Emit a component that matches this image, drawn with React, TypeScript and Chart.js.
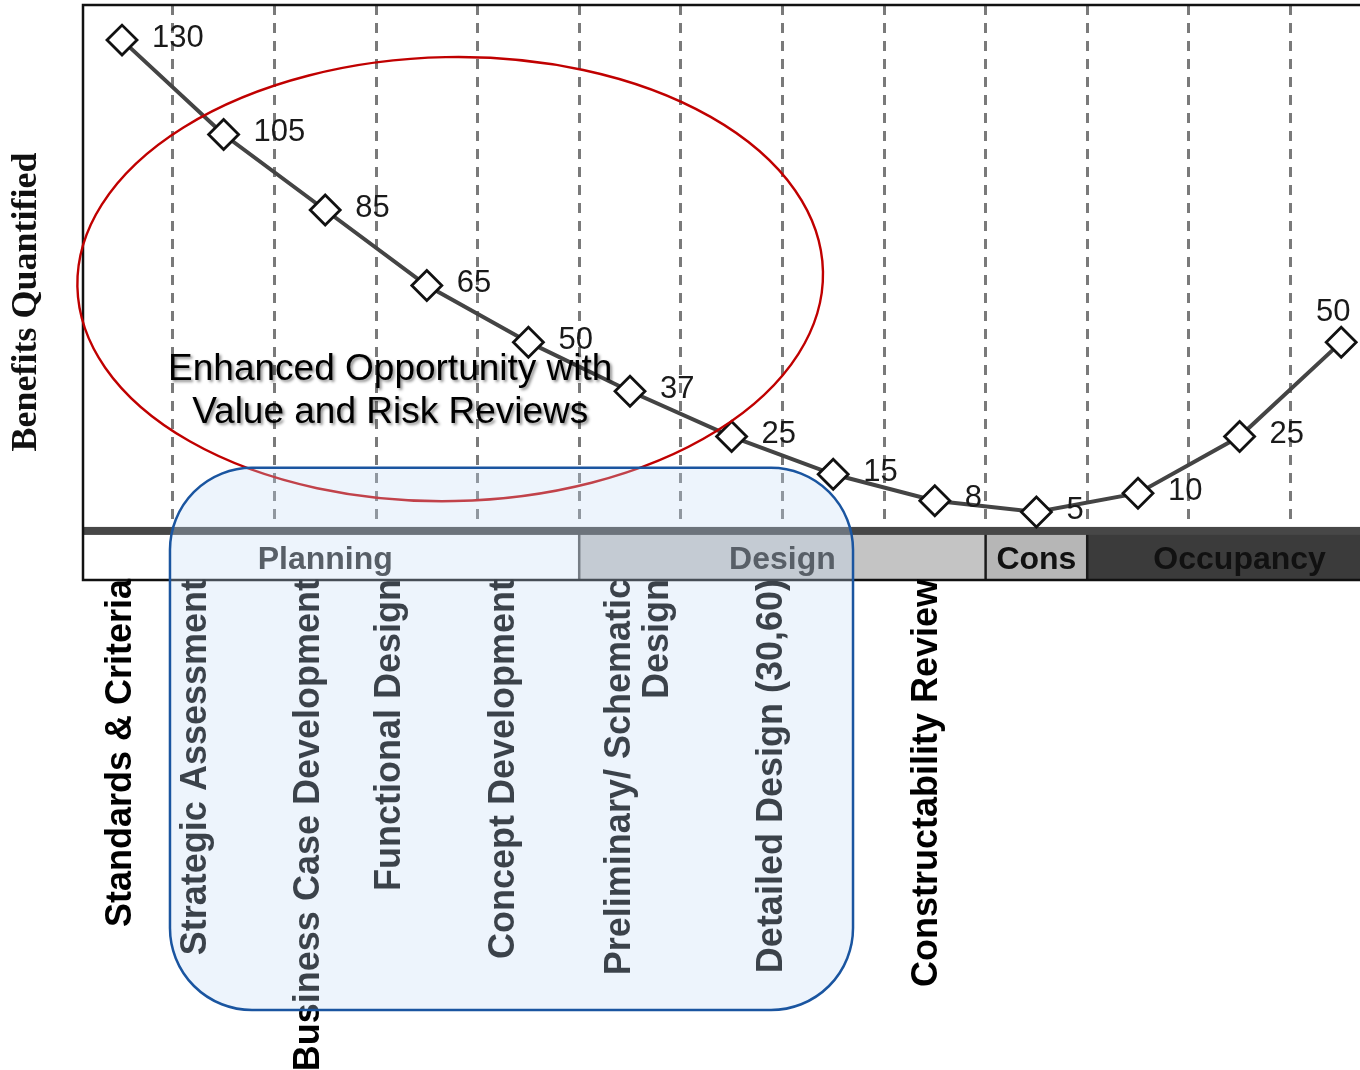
import React, { useEffect, useRef } from 'react';
import { Chart, registerables } from 'chart.js';

Chart.register(...registerables);

// ---- data ----
const stepIndex = [0, 1, 2, 3, 4, 5, 6, 7, 8, 9, 10, 11, 12];
const benefits = [130, 105, 85, 65, 50, 37, 25, 15, 8, 5, 10, 25, 50];
const stageLabels: (string | string[])[] = [
  'Standards & Criteria',
  'Strategic Assessment',
  'Business Case Development',
  'Functional Design',
  'Concept Development',
  ['Preliminary/ Schematic', 'Design'],
  'Detailed Design (30,60)',
  'Constructability Review',
];
const phaseNames = ['Planning', 'Design', 'Cons', 'Occupancy'];
const phaseFrom = [-0.5, 4.5, 8.5, 9.5];
const phaseTo = [4.5, 8.5, 9.5, 12.5];
const gridBetween = [0.5, 1.5, 2.5, 3.5, 4.5, 5.5, 6.5, 7.5, 8.5, 9.5, 10.5, 11.5];
const yTitle = 'Benefits Quantified';
const calloutText = ['Enhanced Opportunity with', 'Value and Risk Reviews'];

// ---- styling / placement (not data) ----
const STAGE_LABEL_AT = [-0.01, 0.73, 1.84, 2.64, 3.76, 5.09, 6.4, 7.92];
const PHASE_FILL = ['#ffffff', '#c4c4c4', '#b6b6b6', '#3b3b3b'];
const PHASE_TEXT = ['#2a2a2a', '#2a2a2a', '#111111', '#111111'];
const SANS = '"Liberation Sans", Arial, sans-serif';

const decor = {
  id: 'decor',
  beforeDatasetsDraw(chart: any) {
    const { ctx, chartArea: ca, scales } = chart;
    const x = scales.x;
    const y = scales.y;
    const y0 = y.getPixelForValue(0);
    const yb = ca.bottom;
    ctx.save();
    phaseNames.forEach((_, i) => {
      const x1 = Math.max(ca.left, x.getPixelForValue(phaseFrom[i]));
      const x2 = Math.min(ca.right, x.getPixelForValue(phaseTo[i]));
      ctx.fillStyle = PHASE_FILL[i];
      ctx.fillRect(x1, y0, x2 - x1, yb - y0);
    });
    phaseNames.forEach((_, i) => {
      if (i === 0) return;
      const xp = x.getPixelForValue(phaseFrom[i]);
      ctx.strokeStyle = i === 1 ? '#555' : '#1a1a1a';
      ctx.lineWidth = 2.5;
      ctx.beginPath();
      ctx.moveTo(xp, y0);
      ctx.lineTo(xp, yb);
      ctx.stroke();
    });
    ctx.fillStyle = '#474747';
    ctx.fillRect(ca.left, y0 - 4, ca.right - ca.left, 8);
    ctx.font = `bold 32px ${SANS}`;
    ctx.textAlign = 'center';
    ctx.textBaseline = 'middle';
    phaseNames.forEach((n, i) => {
      ctx.fillStyle = PHASE_TEXT[i];
      const cx = x.getPixelForValue((phaseFrom[i] + phaseTo[i]) / 2);
      ctx.fillText(n, cx, (y0 + 4 + yb) / 2 + 3);
    });
    ctx.strokeStyle = '#111';
    ctx.lineWidth = 2.5;
    ctx.beginPath();
    ctx.moveTo(ca.right, ca.top);
    ctx.lineTo(ca.left, ca.top);
    ctx.lineTo(ca.left, yb);
    ctx.lineTo(ca.right, yb);
    ctx.stroke();
    ctx.restore();
  },
  afterDatasetsDraw(chart: any) {
    const { ctx, chartArea: ca, scales } = chart;
    const x = scales.x;
    const y = scales.y;
    const meta = chart.getDatasetMeta(0);
    ctx.save();
    // value labels
    ctx.font = `31px ${SANS}`;
    ctx.fillStyle = '#1a1a1a';
    ctx.textBaseline = 'middle';
    meta.data.forEach((pt: any, i: number) => {
      const last = i === meta.data.length - 1;
      if (last) {
        ctx.textAlign = 'center';
        ctx.fillText(String(benefits[i]), pt.x - 8, pt.y - 30);
      } else {
        ctx.textAlign = 'left';
        ctx.fillText(String(benefits[i]), pt.x + 30, pt.y - 2);
      }
    });

    // red ellipse
    const ecx = x.getPixelForValue(3.23);
    const erx = x.getPixelForValue(3.23 + 3.67) - ecx;
    const ecy = y.getPixelForValue(66.7);
    const ery = y.getPixelForValue(66.7 - 58.8) - ecy;
    ctx.strokeStyle = '#c00000';
    ctx.lineWidth = 2.4;
    ctx.beginPath();
    ctx.ellipse(ecx, ecy, erx, ery, -0.02, 0, Math.PI * 2);
    ctx.stroke();

    // callout text with shadow
    ctx.font = `37px ${SANS}`;
    ctx.fillStyle = '#000';
    ctx.textAlign = 'center';
    ctx.textBaseline = 'alphabetic';
    ctx.shadowColor = 'rgba(0,0,0,0.45)';
    ctx.shadowBlur = 3;
    ctx.shadowOffsetX = 2;
    ctx.shadowOffsetY = 2;
    const tcx = x.getPixelForValue(2.64);
    ctx.fillText(calloutText[0], tcx, 380);
    ctx.fillText(calloutText[1], tcx, 423);
    ctx.shadowColor = 'transparent';
    ctx.shadowBlur = 0;
    ctx.shadowOffsetX = 0;
    ctx.shadowOffsetY = 0;

    // y title
    ctx.save();
    ctx.font = `bold 36px "Liberation Serif", "Times New Roman", serif`;
    ctx.fillStyle = '#111';
    ctx.translate(27, 302);
    ctx.rotate(-Math.PI / 2);
    ctx.textAlign = 'center';
    ctx.textBaseline = 'middle';
    ctx.fillText(yTitle, 0, 0);
    ctx.restore();

    // stage labels (rotated)
    ctx.font = `bold 36px ${SANS}`;
    ctx.fillStyle = '#000';
    stageLabels.forEach((lab, i) => {
      const lines = Array.isArray(lab) ? lab : [lab];
      const cx = x.getPixelForValue(STAGE_LABEL_AT[i]);
      ctx.save();
      ctx.translate(cx, ca.bottom - 1);
      ctx.rotate(-Math.PI / 2);
      ctx.textAlign = 'right';
      ctx.textBaseline = 'middle';
      const lh = 38;
      lines.forEach((ln, k) => {
        const off = (k - (lines.length - 1) / 2) * lh;
        ctx.fillText(ln, 0, off);
      });
      ctx.restore();
    });

    // blue rounded box overlay
    const bx1 = x.getPixelForValue(0.472);
    const bx2 = x.getPixelForValue(7.195);
    const by1 = y.getPixelForValue(16.7);
    const by2 = y.getPixelForValue(-126.9);
    ctx.beginPath();
    ctx.roundRect(bx1, by1, bx2 - bx1, by2 - by1, 82);
    ctx.fillStyle = 'rgba(196,217,245,0.3)';
    ctx.fill();
    ctx.strokeStyle = '#1a55a0';
    ctx.lineWidth = 2.5;
    ctx.stroke();
    ctx.restore();
  },
};

export default function App() {
  const ref = useRef<HTMLCanvasElement | null>(null);
  useEffect(() => {
    if (!ref.current) return;
    const chart = new Chart(ref.current, {
      type: 'line',
      data: {
        datasets: [
          {
            data: stepIndex.map((s, i) => ({ x: s, y: benefits[i] })),
            borderColor: '#444444',
            borderWidth: 4,
            pointStyle: 'rectRot',
            pointRadius: 15,
            pointBorderWidth: 2.8,
            pointBorderColor: '#111',
            pointBackgroundColor: '#ffffff',
            tension: 0,
          },
        ],
      },
      options: {
        responsive: false,
        animation: false,
        devicePixelRatio: 1,
        layout: { padding: { left: 83, top: 5, right: 0, bottom: 490 }, autoPadding: false },
        plugins: { legend: { display: false }, tooltip: { enabled: false } },
        scales: {
          x: {
            type: 'linear',
            min: -0.384,
            max: 12.185,
            afterBuildTicks: (axis: any) => {
              axis.ticks = gridBetween.map((v) => ({ value: v }));
            },
            ticks: { display: false },
            grid: { color: '#7a7a7a', lineWidth: 3, drawTicks: false },
            border: { display: false, dash: [10, 8] },
          },
          y: {
            type: 'linear',
            min: -13.0,
            max: 139.3,
            display: false,
          },
        },
      },
      plugins: [decor],
    });
    return () => chart.destroy();
  }, []);
  return (
    <div style={{ position: 'fixed', left: 0, top: 0, width: 1360, height: 1070, background: '#fff' }}>
      <canvas ref={ref} width={1360} height={1070} style={{ width: 1360, height: 1070, display: 'block' }} />
    </div>
  );
}
